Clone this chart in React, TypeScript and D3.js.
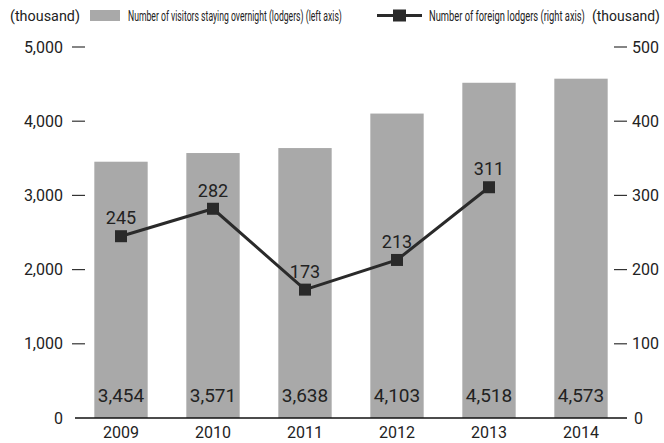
import React, { useLayoutEffect, useRef, useState } from "react";
import * as d3 from "d3";

const years = ["2009", "2010", "2011", "2012", "2013", "2014"];
const lodgers = [3454, 3571, 3638, 4103, 4518, 4573];
const foreignYears = ["2009", "2010", "2011", "2012", "2013"];
const foreignLodgers = [245, 282, 173, 213, 311];
const leftTicks = [0, 1000, 2000, 3000, 4000, 5000];
const rightTicks = [0, 100, 200, 300, 400, 500];
const legendBar = "Number of visitors staying overnight (lodgers) (left axis)";
const legendLine = "Number of foreign lodgers (right axis)";
const unitLabel = "(thousand)";

const W = 664;
const H = 443;
const x0 = 75;
const x1 = 627;
const yTop = 47;
const yBase = 418;
const FONT = "Roboto, 'Noto Sans', sans-serif";
const TXT = "#222";

function FitText(props: { x: number; y: number; width: number; fontSize: number; children: string }) {
  const ref = useRef<SVGTextElement>(null);
  const [sx, setSx] = useState(1);
  useLayoutEffect(() => {
    if (ref.current) {
      const w = ref.current.getComputedTextLength();
      if (w > 0) setSx(props.width / w);
    }
  }, [props.width, props.children]);
  return (
    <text
      ref={ref}
      transform={`translate(${props.x},${props.y}) scale(${sx},1)`}
      fontSize={props.fontSize}
      fill={TXT}
    >
      {props.children}
    </text>
  );
}

export default function App() {
  const x = d3.scaleBand<string>().domain(years).range([x0, x1]).paddingInner(0.42).paddingOuter(0.21);
  const yL = d3.scaleLinear().domain([0, 5000]).range([yBase, yTop]);
  const yR = d3.scaleLinear().domain([0, 500]).range([yBase, yTop]);
  const fmt = d3.format(",");
  const cx = (c: string) => (x(c) as number) + x.bandwidth() / 2;
  const line = d3
    .line<number>()
    .x((_, i) => cx(foreignYears[i]))
    .y((d) => yR(d));

  return (
    <svg
      width={W}
      height={H}
      style={{ position: "absolute", left: 0, top: 0, background: "#fff" }}
      fontFamily={FONT}
    >
      {/* bars */}
      {years.map((c, i) => (
        <rect
          key={c}
          x={x(c)}
          y={yL(lodgers[i])}
          width={x.bandwidth()}
          height={yBase - yL(lodgers[i])}
          fill="#a9a9a9"
        />
      ))}
      {/* bar value labels */}
      {years.map((c, i) => (
        <text key={"v" + c} x={cx(c)} y={402} textAnchor="middle" fontSize={19} fill={TXT}>
          {fmt(lodgers[i])}
        </text>
      ))}
      {/* baseline */}
      <line x1={x0} x2={x1} y1={yBase} y2={yBase} stroke="#111" strokeWidth={1.6} />
      {/* left ticks */}
      {leftTicks.map((t) => (
        <g key={"l" + t}>
          {t !== 0 && <line x1={72} x2={85} y1={yL(t)} y2={yL(t)} stroke="#333" strokeWidth={1.2} />}
          <text x={63} y={yL(t)} dy="0.35em" textAnchor="end" fontSize={16} fill={TXT}>
            {fmt(t)}
          </text>
        </g>
      ))}
      {/* right ticks */}
      {rightTicks.map((t) => (
        <g key={"r" + t}>
          {t !== 0 && <line x1={614} x2={627} y1={yR(t)} y2={yR(t)} stroke="#333" strokeWidth={1.2} />}
          <text x={t === 0 ? 634 : 632} y={yR(t)} dy="0.35em" textAnchor="start" fontSize={16} fill={TXT}>
            {t}
          </text>
        </g>
      ))}
      {/* x labels */}
      {years.map((c) => (
        <text key={"x" + c} x={cx(c)} y={438} textAnchor="middle" fontSize={16} fill={TXT}>
          {c}
        </text>
      ))}
      {/* line */}
      <path d={line(foreignLodgers) || ""} fill="none" stroke="#2a2a2a" strokeWidth={3} />
      {foreignLodgers.map((v, i) => (
        <g key={"m" + i}>
          <rect x={cx(foreignYears[i]) - 6} y={yR(v) - 6} width={12} height={12} fill="#2a2a2a" />
          <text x={cx(foreignYears[i])} y={yR(v) - 12} textAnchor="middle" fontSize={18} fill={TXT}>
            {v}
          </text>
        </g>
      ))}
      {/* legend */}
      <FitText x={10} y={21} width={70} fontSize={15}>{unitLabel}</FitText>
      <rect x={90} y={10} width={30} height={11} fill="#a9a9a9" />
      <FitText x={128} y={21} width={214} fontSize={15}>{legendBar}</FitText>
      <line x1={377} x2={422} y1={15.5} y2={15.5} stroke="#2a2a2a" strokeWidth={3} />
      <rect x={393} y={9.5} width={13} height={12} fill="#2a2a2a" />
      <FitText x={429} y={21} width={156} fontSize={15}>{legendLine}</FitText>
      <FitText x={592} y={21} width={68} fontSize={15}>{unitLabel}</FitText>
    </svg>
  );
}
